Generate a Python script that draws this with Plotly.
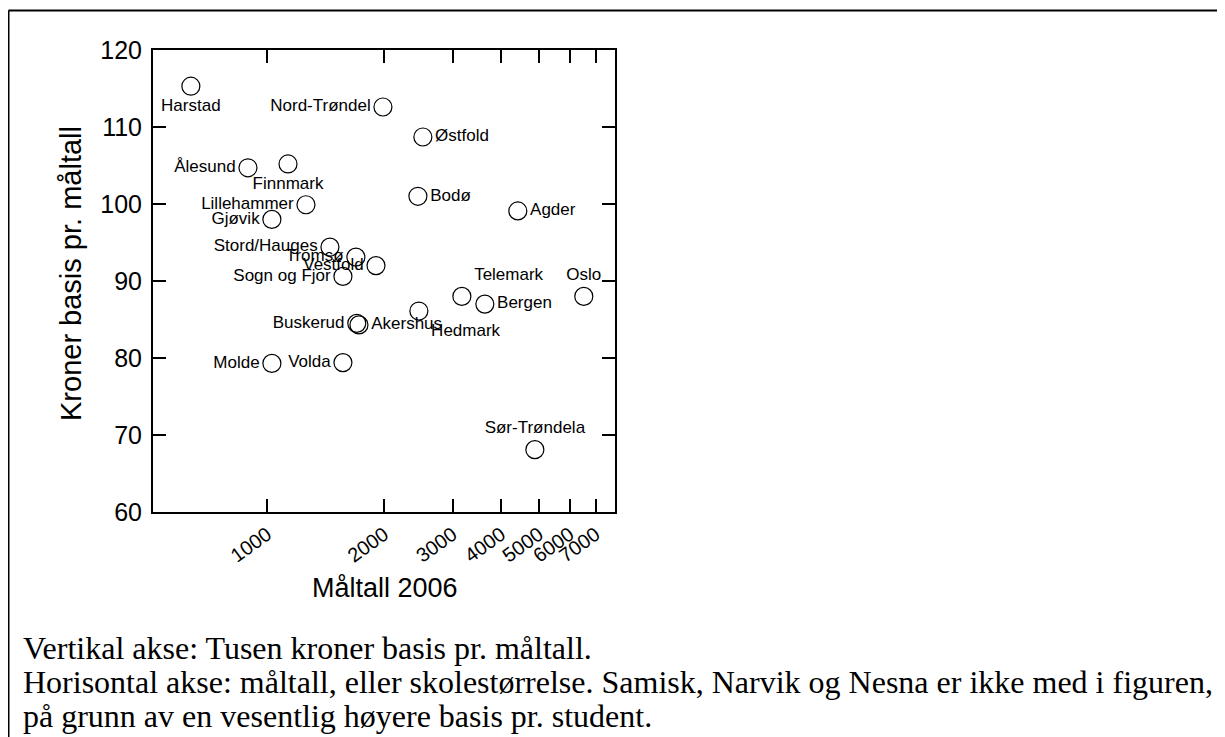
import plotly.graph_objects as go

# ---- data ----
names = ["Harstad", "Nord-Trøndel", "Østfold", "Ålesund", "Finnmark", "Lillehammer",
         "Gjøvik", "Bodø", "Agder", "Stord/Hauges", "Tromsø", "Vestfold", "Sogn og Fjor",
         "Oslo", "Telemark", "Bergen", "Hedmark", "Buskerud", "Akershus", "Molde",
         "Volda", "Sør-Trøndela"]
maltall = [636, 1985, 2515, 892, 1131, 1258,
           1028, 2442, 4415, 1450, 1691, 1905, 1566,
           6527, 3169, 3631, 2456, 1700, 1722, 1028,
           1566, 4884]
basis = [115.3, 112.6, 108.7, 104.7, 105.2, 99.9,
         98.0, 101.0, 99.1, 94.4, 93.1, 92.0, 90.6,
         88.0, 88.0, 87.0, 86.1, 84.5, 84.3, 79.3,
         79.4, 68.1]
label_pos = ["bottom center", "middle left", "middle right", "middle left", "bottom center",
             "middle left", "middle left", "middle right", "middle right", "middle left",
             "middle left", "middle left", "middle left", "top center", "top right",
             "middle right", "bottom right", "middle left", "middle right", "middle left",
             "middle left", "top center"]

x_tickvals = [1000, 2000, 3000, 4000, 5000, 6000, 7000]
x_ticktext = ["1000", "2000", "3000", "4000", "5000", "6000", "7000"]
y_tickvals = [60, 70, 80, 90, 100, 110, 120]

x_title = "Måltall 2006"
y_title = "Kroner basis pr. måltall"
caption_lines = [
    "Vertikal akse: Tusen kroner basis pr. måltall.",
    "Horisontal akse: måltall, eller skolestørrelse. Samisk, Narvik og Nesna er ikke med i figuren,",
    "på grunn av en vesentlig høyere basis pr. student.",
]

# ---- layout geometry (page pixels; the page body has an 8px margin) ----
OFF = 8
W, H = 1225 - OFF, 737 - OFF
L, R, T, B = 153, 615, 50, 512          # plot area in page pixels
pw, ph = R - L, B - T


def px(x):
    return (x - L) / pw


def py(y):
    return (B - y) / ph


fig = go.Figure()
fig.add_trace(go.Scatter(
    x=maltall, y=basis, mode="markers+text", text=names, textposition=label_pos,
    marker=dict(symbol="circle-open", size=18, color="black", line=dict(width=1.2)),
    textfont=dict(family="Liberation Sans, Arial", size=17, color="black"),
    cliponaxis=False, showlegend=False, hoverinfo="skip",
))

axis_common = dict(showline=True, linecolor="black", linewidth=2, mirror="ticks",
                   ticks="inside", ticklen=13, tickwidth=2, tickcolor="black",
                   showgrid=False, zeroline=False,
                   tickfont=dict(family="Liberation Sans, Arial", color="black"))

fig.update_xaxes(type="log", range=[2.706, 3.895], tickmode="array",
                 tickvals=x_tickvals, ticktext=x_ticktext, tickangle=-36,
                 ticklabelstandoff=1, **axis_common)
fig.update_xaxes(tickfont_size=20)
fig.update_yaxes(range=[60, 120], tickmode="array", tickvals=y_tickvals,
                 ticklabelstandoff=4, **axis_common)
fig.update_yaxes(tickfont_size=25)

annotations = [
    dict(text=x_title, x=px(385), y=py(588), xref="paper", yref="paper",
         showarrow=False, xanchor="center", yanchor="middle",
         font=dict(family="Liberation Sans, Arial", size=27, color="black")),
    dict(text=y_title, x=px(71), y=py(274), xref="paper", yref="paper",
         showarrow=False, xanchor="center", yanchor="middle", textangle=-90,
         font=dict(family="Liberation Sans, Arial", size=29, color="black")),
]
cap_y = [648, 682, 716]
for line, cy in zip(caption_lines, cap_y):
    annotations.append(dict(text=line, x=px(21), y=py(cy), xref="paper", yref="paper",
                            showarrow=False, xanchor="left", yanchor="middle",
                            font=dict(family="Liberation Serif, Times New Roman", size=32,
                                      color="black")))

shapes = [
    dict(type="line", xref="paper", yref="paper", x0=px(8.5), x1=px(1218), y0=py(10.5), y1=py(10.5),
         line=dict(color="black", width=2)),
    dict(type="line", xref="paper", yref="paper", x0=px(8.5), x1=px(8.5), y0=py(10.5), y1=py(760),
         line=dict(color="black", width=2)),
]

fig.update_layout(
    width=W, height=H, autosize=False,
    margin=dict(l=L - OFF, r=W - (R - OFF), t=T - OFF, b=H - (B - OFF), pad=0),
    plot_bgcolor="white", paper_bgcolor="white",
    annotations=annotations, shapes=shapes,
)

fig.write_html("out.html")
